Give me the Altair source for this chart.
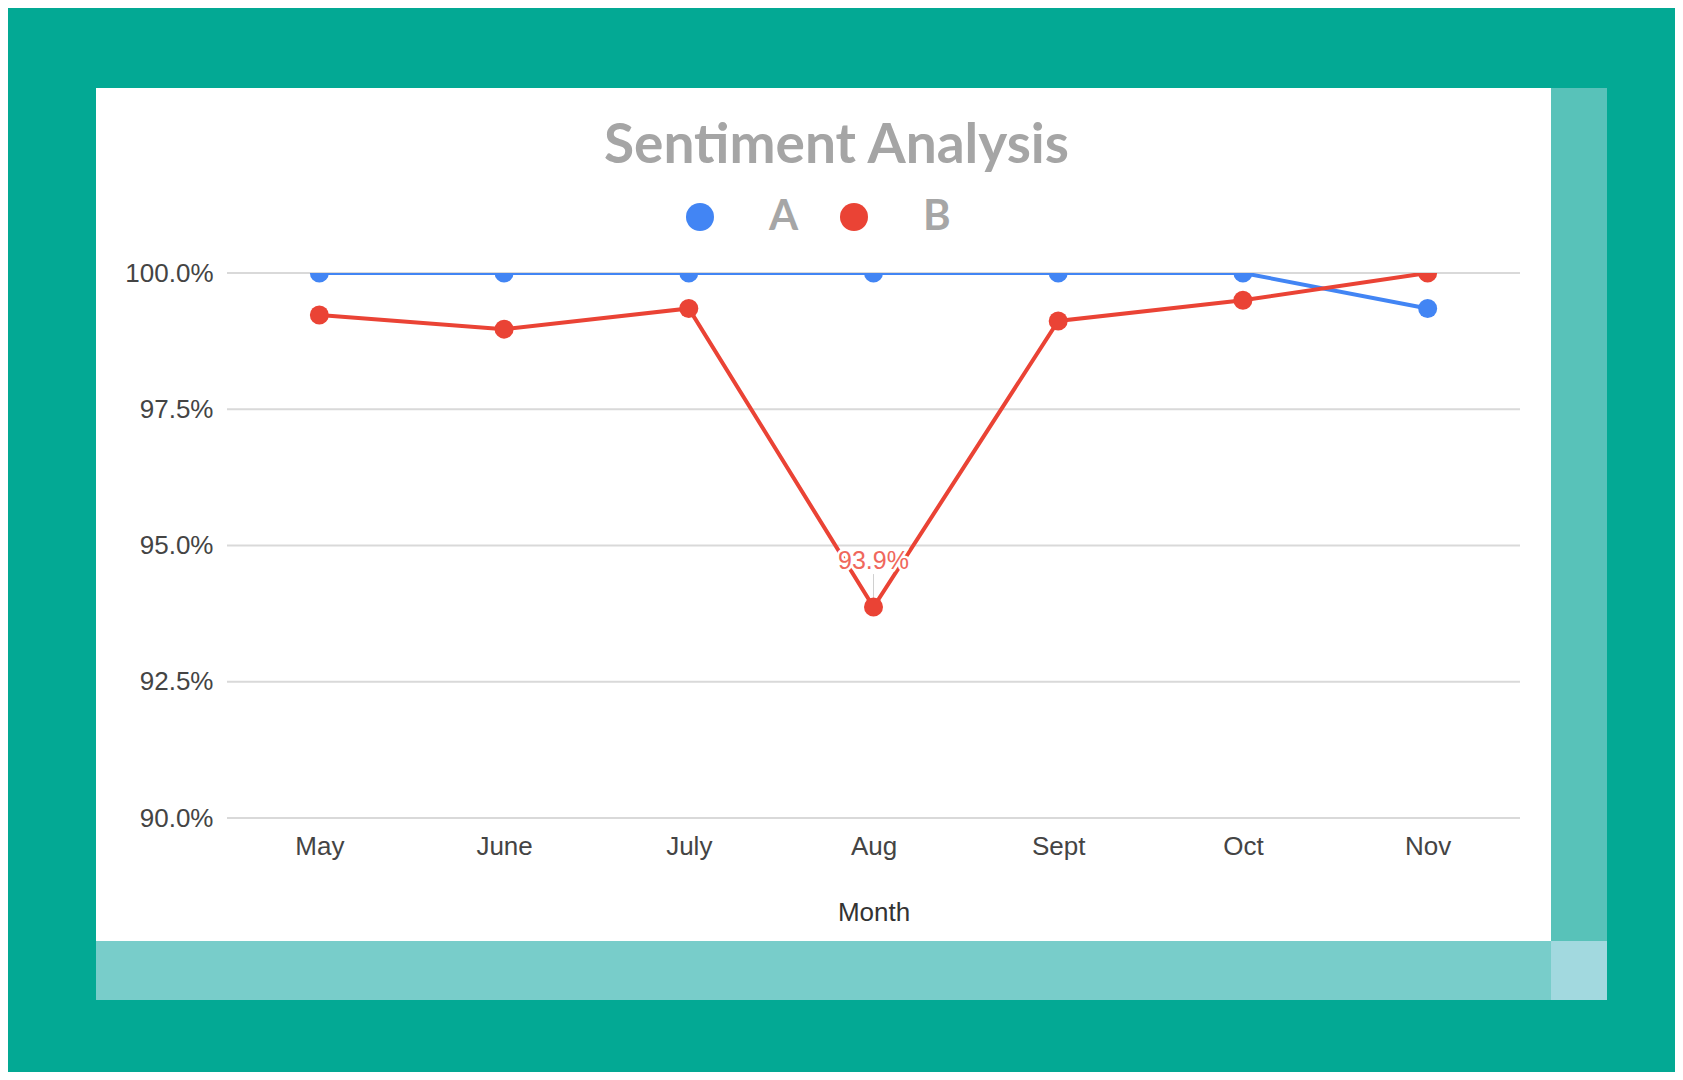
import altair as alt
import pandas as pd

# ---- data ----
months = ["May", "June", "July", "Aug", "Sept", "Oct", "Nov"]
series_a = [100.0, 100.0, 100.0, 100.0, 100.0, 100.0, 99.35]
series_b = [99.23, 98.97, 99.35, 93.87, 99.12, 99.50, 100.0]
series_names = ["A", "B"]
series_colors = ["#4285F4", "#EA4335"]
y_ticks = [90.0, 92.5, 95.0, 97.5, 100.0]
label_month = "Aug"
label_series = "B"

rows = []
for m, a, b in zip(months, series_a, series_b):
    rows.append({"month": m, "series": "A", "value": a})
    rows.append({"month": m, "series": "B", "value": b})
df = pd.DataFrame(rows)
grid_df = pd.DataFrame({"tick": y_ticks})

# decorative frame (white card + light strips), in pixels relative to plot origin
frame_df = pd.DataFrame({
    "x": [-131, 1324, -131, 1324],
    "x2": [1324, 1380, 1324, 1380],
    "y": [-185, -185, 668, 668],
    "y2": [668, 668, 727, 727],
    "fill": ["#FFFFFF", "#58C2B9", "#78CDCA", "#A2D9DF"],
})

FONT = "Liberation Sans"

x_axis = alt.Axis(title="Month", labelAngle=0, grid=False, domain=False, ticks=False,
                  labelFont=FONT, labelFontSize=26, labelColor="#444444", labelPadding=15,
                  titleFont=FONT, titleFontSize=26, titleFontWeight="normal",
                  titleColor="#333333", titlePadding=40, zindex=1)
x_enc = alt.X("month:N", sort=months,
              scale=alt.Scale(type="point", domain=months, padding=0.5), axis=x_axis)
y_scale = alt.Scale(domain=[90, 100], zero=False, nice=False)
y_axis = alt.Axis(title=None, values=y_ticks, grid=False, domain=False, ticks=False,
                  labelExpr="format(datum.value, '.1f') + '%'",
                  labelFont=FONT, labelFontSize=26, labelColor="#444444",
                  labelPadding=14, zindex=1)
y_enc = alt.Y("value:Q", scale=y_scale, axis=y_axis)
color_scale = alt.Scale(domain=series_names, range=series_colors)

legend = alt.Legend(title=None, orient="none", direction="horizontal",
                    legendX=452, legendY=-77, padding=0,
                    symbolType="circle", symbolSize=784, symbolStrokeWidth=0,
                    symbolOpacity=1,
                    labelFont="Lato", labelFontSize=42, labelFontWeight="bold",
                    labelColor="#A6A6A6", labelOffset=48, columnPadding=34)

frame = alt.Chart(frame_df).mark_rect().encode(
    x=alt.X("x:Q", scale=None), x2="x2:Q",
    y=alt.Y("y:Q", scale=None), y2="y2:Q",
    fill=alt.Fill("fill:N", scale=None),
)

grid = alt.Chart(grid_df).mark_rule(color="#D9D9D9", strokeWidth=2).encode(
    y=alt.Y("tick:Q", scale=y_scale, axis=y_axis)
)

base = alt.Chart(df)

lines = base.mark_line(strokeWidth=4, clip=True).encode(
    x=x_enc, y=y_enc,
    stroke=alt.Stroke("series:N", scale=color_scale, legend=legend),
)

points = base.mark_circle(size=361, opacity=1, clip=True).encode(
    x=x_enc, y=y_enc,
    color=alt.Color("series:N", scale=color_scale, legend=legend),
)

lab = base.transform_filter(
    (alt.datum.month == label_month) & (alt.datum.series == label_series)
).transform_calculate(label="format(datum.value, '.1f') + '%'")

leader = lab.mark_rule(color="#D0D0D0", strokeWidth=1, yOffset=-9, y2Offset=-33).encode(
    x=x_enc, y=y_enc, y2="value:Q"
)

halo = lab.mark_text(font=FONT, fontSize=25, dy=-46, baseline="middle", align="center",
                     color="#FFFFFF", stroke="#FFFFFF", strokeWidth=5).encode(
    x=x_enc, y=y_enc, text="label:N")
text = lab.mark_text(font=FONT, fontSize=25, dy=-46, baseline="middle", align="center",
                     color="#F0675C").encode(
    x=x_enc, y=y_enc, text="label:N")

chart = alt.layer(frame, grid, leader, lines, points, halo, text).properties(
    width=1293, height=545,
    autosize=alt.AutoSizeParams(type="none"),
    padding={"left": 219, "top": 265, "right": 155, "bottom": 254},
    title=alt.TitleParams("Sentiment Analysis", font="Lato", fontSize=55, fontWeight="bold",
                          color="#A5A5A5", anchor="middle", frame="group", baseline="alphabetic",
                          offset=-130, dx=-37),
).configure(background="#03A994").configure_view(stroke=None)

chart.save("out.html", embed_options={"renderer": "svg", "actions": False})
